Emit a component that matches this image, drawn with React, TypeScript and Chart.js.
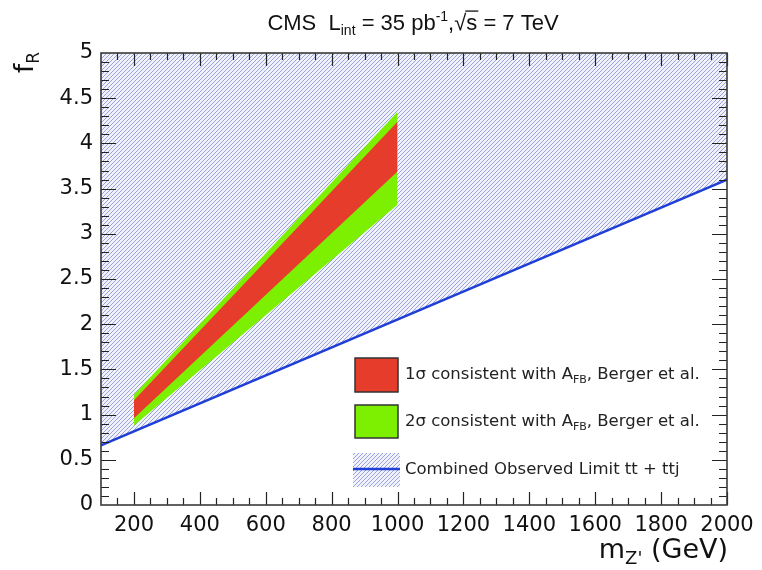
import React, { useEffect, useRef } from "react";
import { Chart, registerables } from "chart.js";

Chart.register(...registerables);

// ---- data ----
const limitMass = [100, 2000];
const limitFR = [0.66, 3.6];

const bandMass = [200, 1000];
const sigma1Upper = [1.16, 4.24];
const sigma1Lower = [0.96, 3.69];
const sigma2Upper = [1.22, 4.35];
const sigma2Lower = [0.88, 3.32];

const xTickValues = [200, 400, 600, 800, 1000, 1200, 1400, 1600, 1800, 2000];
const yTickValues = [0, 0.5, 1, 1.5, 2, 2.5, 3, 3.5, 4, 4.5, 5];
const yTickLabels = ["0", "0.5", "1", "1.5", "2", "2.5", "3", "3.5", "4", "4.5", "5"];
const xMinorStep = 50;
const yMinorStep = 0.1;

const legendLabels = [
  "1σ consistent with A",
  "2σ consistent with A",
  "Combined Observed Limit tt + ttj",
];

const FAMILY = "'DejaVu Sans', 'Liberation Sans', Arial, sans-serif";
const TITLE_FAMILY = "'Liberation Sans', Arial, sans-serif";
const RED = "#e63c2c";
const GREEN = "#7cf000";
const BLUE = "#1f3fd6";

type Seg = { t: string; size: number; dy?: number; over?: boolean };

function drawRich(
  ctx: CanvasRenderingContext2D,
  segs: Seg[],
  x: number,
  y: number,
  align: "left" | "right" | "center",
  color: string,
  family: string = FAMILY
) {
  ctx.save();
  ctx.fillStyle = color;
  ctx.strokeStyle = color;
  ctx.textBaseline = "alphabetic";
  ctx.textAlign = "left";
  const widths = segs.map((s) => {
    ctx.font = `${s.size}px ${family}`;
    return ctx.measureText(s.t).width;
  });
  const total = widths.reduce((a, b) => a + b, 0);
  let cx = align === "left" ? x : align === "right" ? x - total : x - total / 2;
  segs.forEach((s, i) => {
    ctx.font = `${s.size}px ${family}`;
    ctx.fillText(s.t, cx, y + (s.dy || 0));
    if (s.over) {
      ctx.lineWidth = 1.3;
      ctx.beginPath();
      const oy = y + (s.dy || 0) - s.size * 0.86;
      ctx.moveTo(cx - 1, oy);
      ctx.lineTo(cx + widths[i] + 1, oy);
      ctx.stroke();
    }
    cx += widths[i];
  });
  ctx.restore();
}

function makeHatch(): CanvasPattern | string {
  const n = 4;
  const c = document.createElement("canvas");
  c.width = n;
  c.height = n;
  const g = c.getContext("2d");
  if (!g) return "#d0d4e6";
  const img = g.createImageData(n, n);
  const bg = [242, 243, 250];
  const ln = [152, 162, 224];
  for (let y = 0; y < n; y++) {
    for (let x = 0; x < n; x++) {
      const onLine = (x + y) % n === n - 1;
      const col = onLine ? ln : bg;
      const i = (y * n + x) * 4;
      img.data[i] = col[0];
      img.data[i + 1] = col[1];
      img.data[i + 2] = col[2];
      img.data[i + 3] = 255;
    }
  }
  g.putImageData(img, 0, 0);
  const p = g.createPattern(c, "repeat");
  return p || "#d0d4e6";
}

export default function App() {
  const ref = useRef<HTMLCanvasElement | null>(null);

  useEffect(() => {
    if (!ref.current) return;
    const hatch = makeHatch();
    const pts = (xs: number[], ys: number[]) => xs.map((x, i) => ({ x, y: ys[i] }));
    const noLine = { borderColor: "rgba(0,0,0,0)", borderWidth: 0, pointRadius: 0 };

    const decor = {
      id: "rootDecor",
      afterDraw(chart: any) {
        const ctx: CanvasRenderingContext2D = chart.ctx;
        const { left, right, top, bottom } = chart.chartArea;
        const xs = chart.scales.x;
        const ys = chart.scales.y;

        // ticks (inward, on all four sides)
        ctx.save();
        ctx.strokeStyle = "#222";
        ctx.lineWidth = 1.2;
        ctx.beginPath();
        const xMin = xs.min, xMax = xs.max;
        for (let v = xMin + xMinorStep; v < xMax + 1e-6; v += xMinorStep) {
          const major = xTickValues.includes(v);
          const len = major ? 13 : 7;
          const px = Math.round(xs.getPixelForValue(v)) + 0.5;
          ctx.moveTo(px, bottom);
          ctx.lineTo(px, bottom - len);
          ctx.moveTo(px, top);
          ctx.lineTo(px, top + len);
        }
        for (let k = 1; k < 50; k++) {
          const v = Math.round(k * yMinorStep * 10) / 10;
          const major = yTickValues.includes(v);
          const len = major ? 15 : 8;
          const py = Math.round(ys.getPixelForValue(v)) + 0.5;
          ctx.moveTo(left, py);
          ctx.lineTo(left + len, py);
          ctx.moveTo(right, py);
          ctx.lineTo(right - len, py);
        }
        ctx.stroke();
        // frame
        ctx.strokeStyle = "#3a3a3a";
        ctx.lineWidth = 1.6;
        ctx.strokeRect(left, top, right - left, bottom - top);
        ctx.restore();

        // title
        drawRich(
          ctx,
          [
            { t: "CMS  L", size: 22 },
            { t: "int", size: 14, dy: 5 },
            { t: " = 35 pb", size: 22 },
            { t: "-1", size: 14, dy: -9 },
            { t: ",", size: 22 },
            { t: "√", size: 22 },
            { t: "s", size: 22, over: true },
            { t: " = 7 TeV", size: 22 },
          ],
          413,
          30,
          "center",
          "#111",
          TITLE_FAMILY
        );

        // y title (rotated)
        ctx.save();
        ctx.translate(33, 52);
        ctx.rotate(-Math.PI / 2);
        drawRich(
          ctx,
          [
            { t: "f", size: 26 },
            { t: "R", size: 17, dy: 6 },
          ],
          0,
          0,
          "right",
          "#111"
        );
        ctx.restore();

        // x title
        drawRich(
          ctx,
          [
            { t: "m", size: 27 },
            { t: "Z'", size: 18, dy: 6 },
            { t: " (GeV)", size: 27 },
          ],
          728,
          558,
          "right",
          "#111"
        );

        // legend
        ctx.save();
        ctx.lineWidth = 1.5;
        ctx.strokeStyle = "#333";
        ctx.fillStyle = RED;
        ctx.fillRect(355, 358, 43, 34);
        ctx.strokeRect(355, 358, 43, 34);
        ctx.fillStyle = GREEN;
        ctx.fillRect(355, 405, 43, 33);
        ctx.strokeRect(355, 405, 43, 33);
        ctx.fillStyle = hatch as any;
        ctx.fillRect(353, 453, 47, 34);
        ctx.strokeStyle = BLUE;
        ctx.lineWidth = 2.5;
        ctx.beginPath();
        ctx.moveTo(353, 469);
        ctx.lineTo(400, 469);
        ctx.stroke();
        ctx.restore();

        drawRich(
          ctx,
          [
            { t: legendLabels[0], size: 16.5 },
            { t: "FB", size: 11, dy: 4 },
            { t: ", Berger et al.", size: 16.5 },
          ],
          405,
          379,
          "left",
          "#222"
        );
        drawRich(
          ctx,
          [
            { t: legendLabels[1], size: 16.5 },
            { t: "FB", size: 11, dy: 4 },
            { t: ", Berger et al.", size: 16.5 },
          ],
          405,
          426,
          "left",
          "#222"
        );
        drawRich(ctx, [{ t: legendLabels[2], size: 16.5 }], 405, 474, "left", "#222");
      },
    };

    const chart = new Chart(ref.current, {
      type: "line",
      data: {
        datasets: [
          { label: "1σ upper", data: pts(bandMass, sigma1Upper), fill: "+1", backgroundColor: RED, ...noLine },
          { label: "1σ lower", data: pts(bandMass, sigma1Lower), fill: false, ...noLine },
          { label: "2σ upper", data: pts(bandMass, sigma2Upper), fill: "+1", backgroundColor: GREEN, ...noLine },
          { label: "2σ lower", data: pts(bandMass, sigma2Lower), fill: false, ...noLine },
          {
            label: "Combined Observed Limit",
            data: pts(limitMass, limitFR),
            fill: "end",
            backgroundColor: hatch as any,
            borderColor: BLUE,
            borderWidth: 2.5,
            pointRadius: 0,
          },
        ],
      },
      options: {
        responsive: false,
        animation: false,
        events: [],
        layout: { padding: { top: 53, right: 35, left: 0, bottom: 0 } },
        plugins: {
          legend: { display: false },
          tooltip: { enabled: false },
          title: { display: false },
        },
        scales: {
          x: {
            type: "linear",
            min: 100,
            max: 2000,
            afterBuildTicks: (s: any) => {
              s.ticks = xTickValues.map((v) => ({ value: v }));
            },
            afterFit: (s: any) => {
              s.height = 65;
            },
            grid: { display: false, drawTicks: false },
            border: { display: false },
            ticks: {
              autoSkip: false,
              maxRotation: 0,
              padding: 8,
              color: "#111",
              font: { family: FAMILY, size: 21 },
              callback: (v: any) => String(v),
            },
          },
          y: {
            type: "linear",
            min: 0,
            max: 5,
            afterBuildTicks: (s: any) => {
              s.ticks = yTickValues.map((v) => ({ value: v }));
            },
            afterFit: (s: any) => {
              s.width = 101;
            },
            grid: { display: false, drawTicks: false },
            border: { display: false },
            ticks: {
              autoSkip: false,
              padding: 8,
              color: "#111",
              font: { family: FAMILY, size: 21 },
              callback: (v: any) => {
                const i = yTickValues.indexOf(Number(v));
                return i >= 0 ? yTickLabels[i] : String(v);
              },
            },
          },
        },
      },
      plugins: [decor],
    });
    return () => chart.destroy();
  }, []);

  return (
    <div style={{ position: "absolute", left: 0, top: 0, width: 762, height: 570, background: "#fff" }}>
      <canvas ref={ref} width={762} height={570} style={{ display: "block" }} />
    </div>
  );
}
